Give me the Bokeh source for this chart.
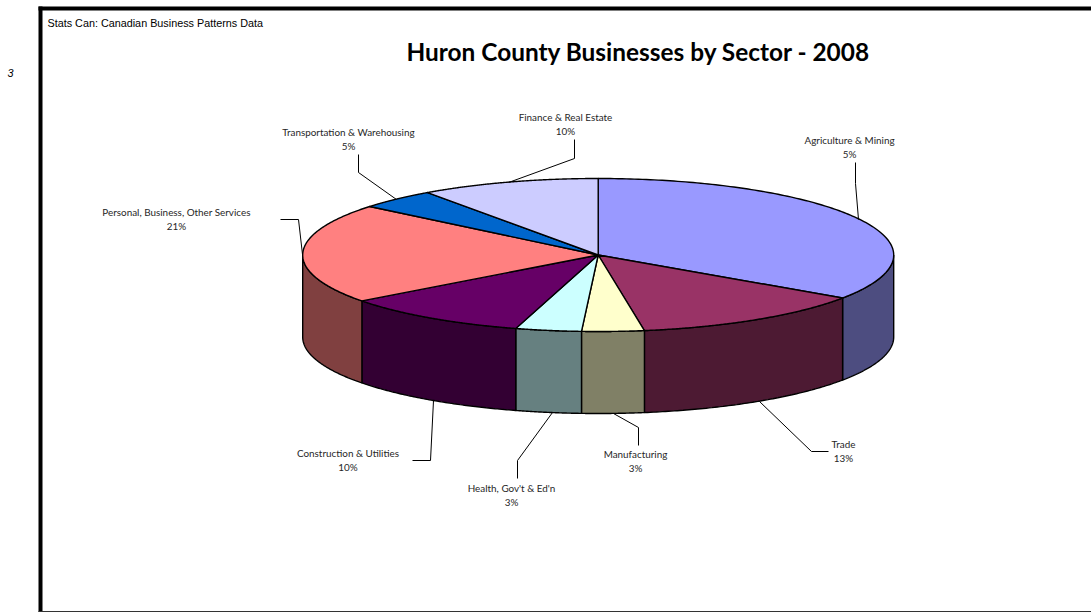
import numpy as np
from bokeh.plotting import figure
from bokeh.models import ColumnDataSource
from bokeh.core.properties import value
from bokeh.embed import file_html
from bokeh.resources import INLINE

categories = ["Agriculture & Mining", "Trade", "Manufacturing", "Health, Gov't & Ed'n",
              "Construction & Utilities", "Personal, Business, Other Services",
              "Transportation & Warehousing", "Finance & Real Estate"]
shares = [34.5, 13.0, 3.4, 3.6, 10.25, 21.18, 4.27, 9.8]
shown_pct = ["5%", "13%", "3%", "3%", "10%", "21%", "5%", "10%"]
top_colors = ["#9999FF", "#993366", "#FFFFCC", "#CCFFFF", "#660066", "#FF8080", "#0066CC", "#CCCCFF"]
side_colors = ["#4D4D80", "#4D1A33", "#808066", "#668080", "#330033", "#804040", "#003366", "#666680"]
label_x = [849, 843, 635, 511, 347.5, 176, 348, 565]
label_y = [139, 443, 453, 487, 452, 211, 131, 116]
leaders = [
    [(858, 219), (855, 183), (855, 162)],
    [(759, 401), (811, 451), (828, 451)],
    [(613, 413), (638, 427), (638, 445)],
    [(552, 412), (517, 460), (517, 478)],
    [(433, 400), (430, 460), (412, 460)],
    [(302, 254), (298, 219), (280, 219)],
    [(396, 199), (358, 172), (358, 154)],
    [(508, 182), (574, 158), (574, 139)],
]
CX, CY, RX, RY, DEPTH = 597.7, 254.5, 295.5, 76.5, 82.0

p = figure(width=1091, height=612, x_range=(0, 1091), y_range=(612, 0),
           output_backend="svg", toolbar_location=None, min_border=0,
           outline_line_color=None, background_fill_color="white",
           x_axis_location=None, y_axis_location=None)
p.grid.visible = False
p.styles = {"position": "absolute", "left": "0px", "top": "0px"}

# frame
p.quad(left=[38], right=[1091], top=[6], bottom=[10], fill_color="black", line_color=None)
p.quad(left=[38], right=[42], top=[6], bottom=[612], fill_color="black", line_color=None)
p.quad(left=[38], right=[1091], top=[610.5], bottom=[612], fill_color="#333333", line_color=None)

edges = np.concatenate([[0], np.cumsum(shares)]) / np.sum(shares) * 360.0


def ell(t, dy=0.0):
    r = np.radians(t)
    return CX + RX * np.sin(r), CY - RY * np.cos(r) + dy


# sides (only the front half of the rim shows)
for a, b, c in zip(edges[:-1], edges[1:], side_colors):
    lo, hi = max(a, 90.0), min(b, 270.0)
    if hi <= lo:
        continue
    t = np.linspace(lo, hi, 80)
    x1, y1 = ell(t)
    x2, y2 = ell(t[::-1], DEPTH)
    p.patch(np.r_[x1, x2], np.r_[y1, y2], fill_color=c, line_color="black", line_width=1.4)

# top
for a, b, c in zip(edges[:-1], edges[1:], top_colors):
    t = np.linspace(a, b, 160)
    x, y = ell(t)
    p.patch(np.r_[CX, x], np.r_[CY, y], fill_color=c, line_color="black", line_width=1.4,
            line_join="round")

# leaders
for pts in leaders:
    xs, ys = zip(*pts)
    p.line(list(xs), list(ys), line_color="black", line_width=1)

# data labels
src = ColumnDataSource(dict(x=label_x, y=label_y, name=categories, pct=shown_pct,
                            y2=[v + 14.5 for v in label_y]))
for col, ycol in (("name", "y"), ("pct", "y2")):
    p.text(x="x", y=ycol, text=col, source=src, text_font=value("Lato"), text_font_size="9.9px",
           text_color="#262626", text_align="center", text_baseline="middle")

p.text(x=[406], y=[50.5], text=["Huron County Businesses by Sector - 2008"], text_font=value("Lato"),
       text_font_size="24.4px", text_font_style="bold", text_color="black",
       text_align="left", text_baseline="middle")
p.text(x=[47], y=[22], text=["Stats Can: Canadian Business Patterns Data"],
       text_font=value("Liberation Sans"), text_font_size="10.8px", text_color="black",
       text_align="left", text_baseline="middle")
p.text(x=[7], y=[72], text=["3"], text_font=value("Liberation Sans"), text_font_size="10.8px",
       text_font_style="italic", text_color="black", text_align="left", text_baseline="middle")

open("out.html", "w").write(file_html(p, INLINE))
